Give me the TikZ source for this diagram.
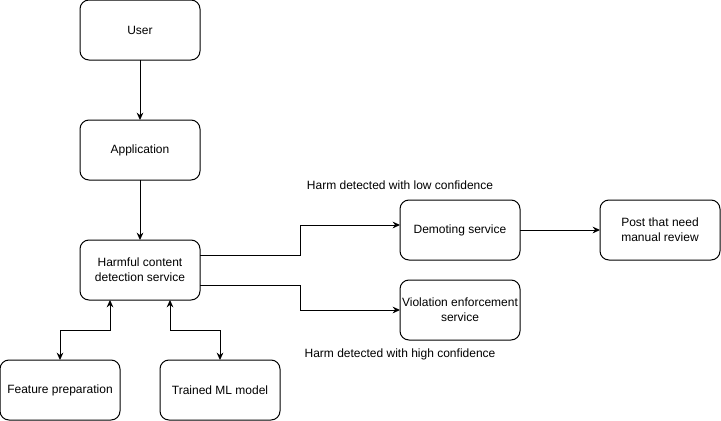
\documentclass[tikz,border=0pt]{standalone}
\usepackage{fontspec}
\setmainfont{Liberation Sans}
\usetikzlibrary{arrows.meta, positioning}

\begin{document}
\begin{tikzpicture}[x=0.75pt, y=-0.75pt, line width=0.75pt,
    font=\fontsize{9pt}{11pt}\selectfont,
    box/.style={shape=rectangle, draw=black, rounded corners=6.75pt, align=center,
      minimum width=90pt, minimum height=45pt, inner sep=1pt, outer sep=0pt},
    tip/.style={-{Stealth[length=5.5pt, width=5pt]}},
    bitip/.style={{Stealth[length=5.5pt, width=5pt]}-{Stealth[length=5.5pt, width=5pt]}}]
    \useasboundingbox (0,0) rectangle (721,421);

    \node[box] (user) at (140,30) {User};
    \node[box, below = 45pt of user] (app) {Application};
    \node[box, below = 45pt of app] (harm) {Harmful content\\detection service};
    \node[box] (feat) at (60,390) {Feature preparation};
    \node[box] (model) at (220,390) {Trained ML model};
    \node[box] (demote) at (460,230) {Demoting service};
    \node[box, below = 15pt of demote] (violation) {Violation enforcement\\service};
    \node[box, right = 60pt of demote] (review) {Post that need\\manual review};

    \node (lowlbl) at (400,185) {Harm detected with low confidence};
    \node (highlbl) at (400,354) {Harm detected with high confidence};

      \draw[tip] (user) -- (app);
      \draw[tip] (app) -- (harm);
      \draw[tip] ([yshift=11.25pt]harm.east) -- ++(75pt,0) |- ([yshift=3.75pt]demote.west);
      \draw[tip] ([yshift=-11.25pt]harm.east) -- ++(75pt,0) |- (violation.west);
      \draw[tip] (demote) -- (review);
      \draw[bitip] ([xshift=-22.5pt]harm.south) -- ++(0,-22.5pt) -| (feat.north);
      \draw[bitip] ([xshift=22.5pt]harm.south) -- ++(0,-22.5pt) -| (model.north);
  \end{tikzpicture}
\end{document}
